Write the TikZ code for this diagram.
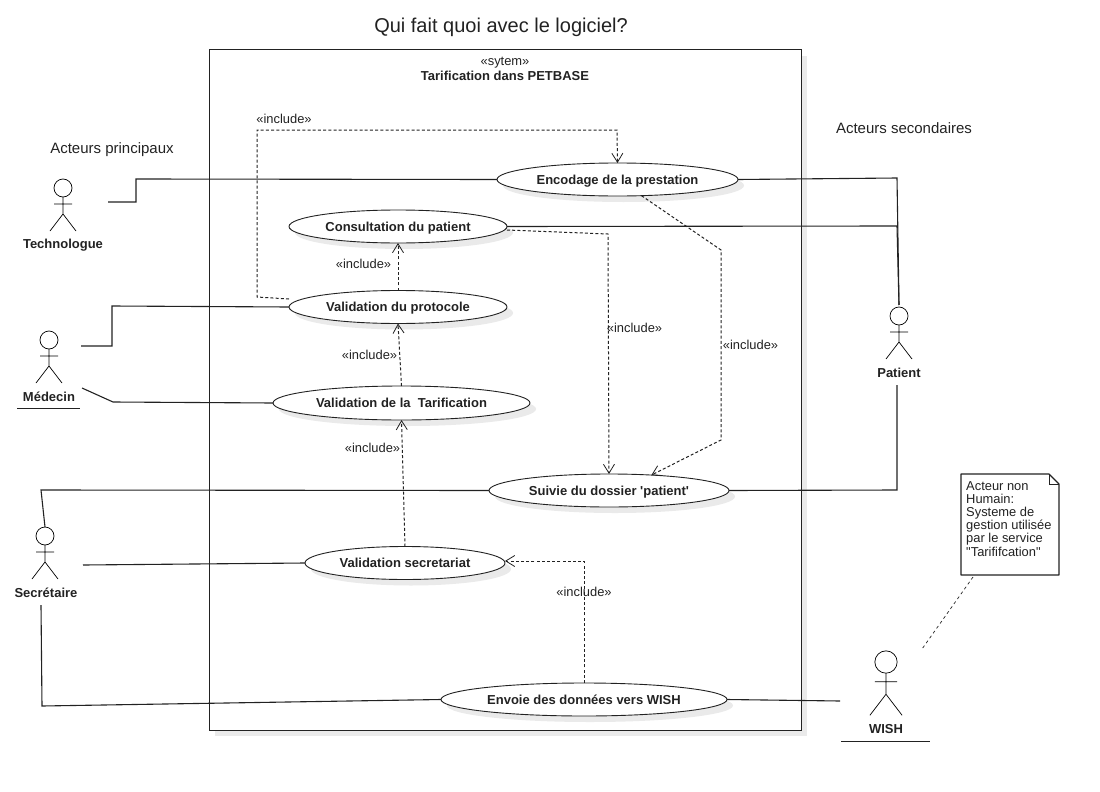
\documentclass[tikz,border=0pt]{standalone}
\usepackage{fontspec}
\setmainfont{Liberation Sans}
\newfontfamily\rawfont{Liberation Sans}
\usetikzlibrary{arrows.meta,shapes.geometric}
\definecolor{shadowgray}{HTML}{EAEAEA}
\definecolor{linegray}{HTML}{222222}
\definecolor{txt}{HTML}{222222}
\tikzset{
  usecase/.style={ellipse,draw=linegray,fill=white,line width=0.9pt,inner sep=0pt,outer sep=0pt,font=\fontsize{13}{15}\selectfont\bfseries,text=txt},
  usecaseshadow/.style={ellipse,fill=shadowgray,inner sep=0pt,outer sep=0pt},
  assoc/.style={draw=linegray,line width=1.1pt},
  incl/.style={draw=linegray,line width=1pt,dash pattern=on 3pt off 2.2pt,-{Straight Barb[length=9pt,width=11pt,line width=0.8pt]}},
  incllabel/.style={font=\fontsize{12.9}{15}\selectfont,text=txt,inner sep=0pt},
  actorlabel/.style={font=\fontsize{13}{15}\selectfont\bfseries,text=txt,inner sep=0pt},
  free/.style={font=\fontsize{15}{17}\selectfont,text=txt,inner sep=0pt},
  limb/.style={draw=black,line width=0.7pt},
  underl/.style={draw=linegray,line width=1.1pt}
}
\newcommand{\actorfig}[3]{% x, y of head centre, scale factor
  \begin{scope}[shift={(#1,#2)},x=#3pt,y=-#3pt]
    \draw[limb] (0,0) circle[radius=9];
    \draw[limb] (0,9) -- (0,26) (-9,16) -- (9,16) (-13,43) -- (0,26) -- (13,43);
  \end{scope}
}
\newcommand{\ucase}[6]{% name, x, y, w, h, text
  \node[usecaseshadow,minimum width=#4pt,minimum height=#5pt] at (#2+6,#3+6) {};
  \node[usecase,minimum width=#4pt,minimum height=#5pt] (#1) at (#2,#3) {\raisebox{-4.5pt}[0pt][0pt]{#6}};
}
\begin{document}
\begin{tikzpicture}[x=1pt,y=-1pt]
\useasboundingbox (0,0) rectangle (1100,792);
% title
\node[font=\fontsize{20}{24}\selectfont,text=txt,inner sep=0pt] (title) at (501,27) {Qui fait quoi avec le logiciel?};
% system
\fill[shadowgray] (215,56) rectangle (807,736);
\node[draw=linegray,fill=white,line width=1pt,minimum width=592pt,minimum height=680pt,inner sep=0pt,outer sep=0pt] (sys) at (505,390) {};
\node[incllabel] (sysst) at (505,62.5) {«sytem»};
\node[actorlabel] (sysname) at (505,75.5) {Tarification dans PETBASE};
% free labels
\node[free] (ap) at (112,149.5) {Acteurs principaux};
\node[free] (as) at (904,128) {Acteurs secondaires};
% free ends of associations
\coordinate (tech) at (108,202);
\coordinate (med1) at (81,346);
\coordinate (med2) at (82,388);
\coordinate (patT) at (899,305);
\coordinate (patB) at (897,385);
\coordinate (secT) at (45,527);
\coordinate (sec1) at (83,565);
\coordinate (sec2) at (41,605);
\coordinate (wish) at (840,701);
% use cases
\ucase{enc}{617.5}{179.5}{241}{33}{Encodage de la prestation}
\ucase{con}{398}{226.5}{218}{33}{Consultation du patient}
\ucase{vpr}{398}{307}{218}{33}{Validation du protocole}
\ucase{vta}{401.5}{403}{257}{34}{Validation de la\ \ Tarification}
\ucase{sui}{609}{490.5}{240}{33}{Suivie du dossier {\rawfont\bfseries '}patient{\rawfont\bfseries '}}
\ucase{vse}{405}{563}{200}{33}{Validation secretariat}
\ucase{env}{584}{699.5}{286}{33}{Envoie des données vers WISH}
\draw[assoc] (tech) -- (136,202) -- (136,179) -- (enc.west);
\draw[assoc] (enc.east) -- (897,178) -- (patT);
\draw[assoc] (con.east) -- (897,226) -- (patT);
\draw[assoc] (sui.east) -- (897,490) -- (patB);
\draw[assoc] (med1) -- (112,346) -- (112,306) -- (vpr.west);
\draw[assoc] (med2) -- (113,402) -- (vta.west);
\draw[assoc] (secT) -- (41,490) -- (sui.west);
\draw[assoc] (sec1) -- (vse.west);
\draw[assoc] (sec2) -- (42,706) -- (env.west);
\draw[assoc] (env.east) -- (wish);
% includes
\draw[incl] ([yshift=8pt]vpr.west) -- (257,297) -- (257,130) -- (617,130) -- (enc.north);
\draw[incl] ([yshift=-3.5pt]con.east) -- (608,234) -- (sui.north);
\draw[incl] (enc.-34) -- (721,250) -- (721,440) -- (sui.20);
\draw[incl] (vpr.north) -- (con.south);
\draw[incl] (vta.north) -- (vpr.south);
\draw[incl] (vse.north) -- (vta.south);
\draw[incl] (env.north) -- (584,561) -- ([yshift=2pt]vse.east);
\node[incllabel] (l1) at (284,119) {«include»};
\node[incllabel] (l2) at (634.5,328) {«include»};
\node[incllabel] (l3) at (750.5,345) {«include»};
\node[incllabel] (l4) at (363.5,264) {«include»};
\node[incllabel] (l5) at (369.5,355) {«include»};
\node[incllabel] (l6) at (372.5,448) {«include»};
\node[incllabel] (l7) at (584,592) {«include»};
% actors
\actorfig{63}{188}{1}
\node[actorlabel] (technologue) at (63,245.5) {Technologue};
\actorfig{49}{340}{1}
\node[actorlabel] (medecin) at (49,396.5) {Médecin};
\draw[underl] (17,408.5) -- (80,408.5);
\actorfig{899}{316}{1}
\node[actorlabel] (patient) at (899,372.5) {Patient};
\actorfig{45}{536}{1}
\node[actorlabel] (secretaire) at (46,592.5) {Secrétaire};
\actorfig{886}{662}{1.24}
\node[actorlabel] (wishl) at (886,729.5) {WISH};
\draw[underl] (841,741.5) -- (930,741.5);
% note
\draw[line width=1.1pt,draw=linegray,fill=white,line join=round] (961,474) -- (1049,474) -- (1059,484) -- (1059,575) -- (961,575) -- cycle;
\draw[line width=0.8pt,draw=linegray] (1049,474) -- (1049,484) -- (1059,484);
\node[anchor=north west,align=left,inner sep=0pt,text=txt,font=\fontsize{12.9}{13.2}\selectfont] (note) at (966,481) {Acteur non\\Humain:\\Systeme de\\gestion utilisée\\par le service\\{\rawfont "}Tarififcation{\rawfont "}};
\coordinate (na) at (973,577);
\coordinate (nb) at (922,649);
\draw[draw=linegray,line width=0.7pt,dash pattern=on 3pt off 3pt] (na) -- (nb);
\end{tikzpicture}
\end{document}
